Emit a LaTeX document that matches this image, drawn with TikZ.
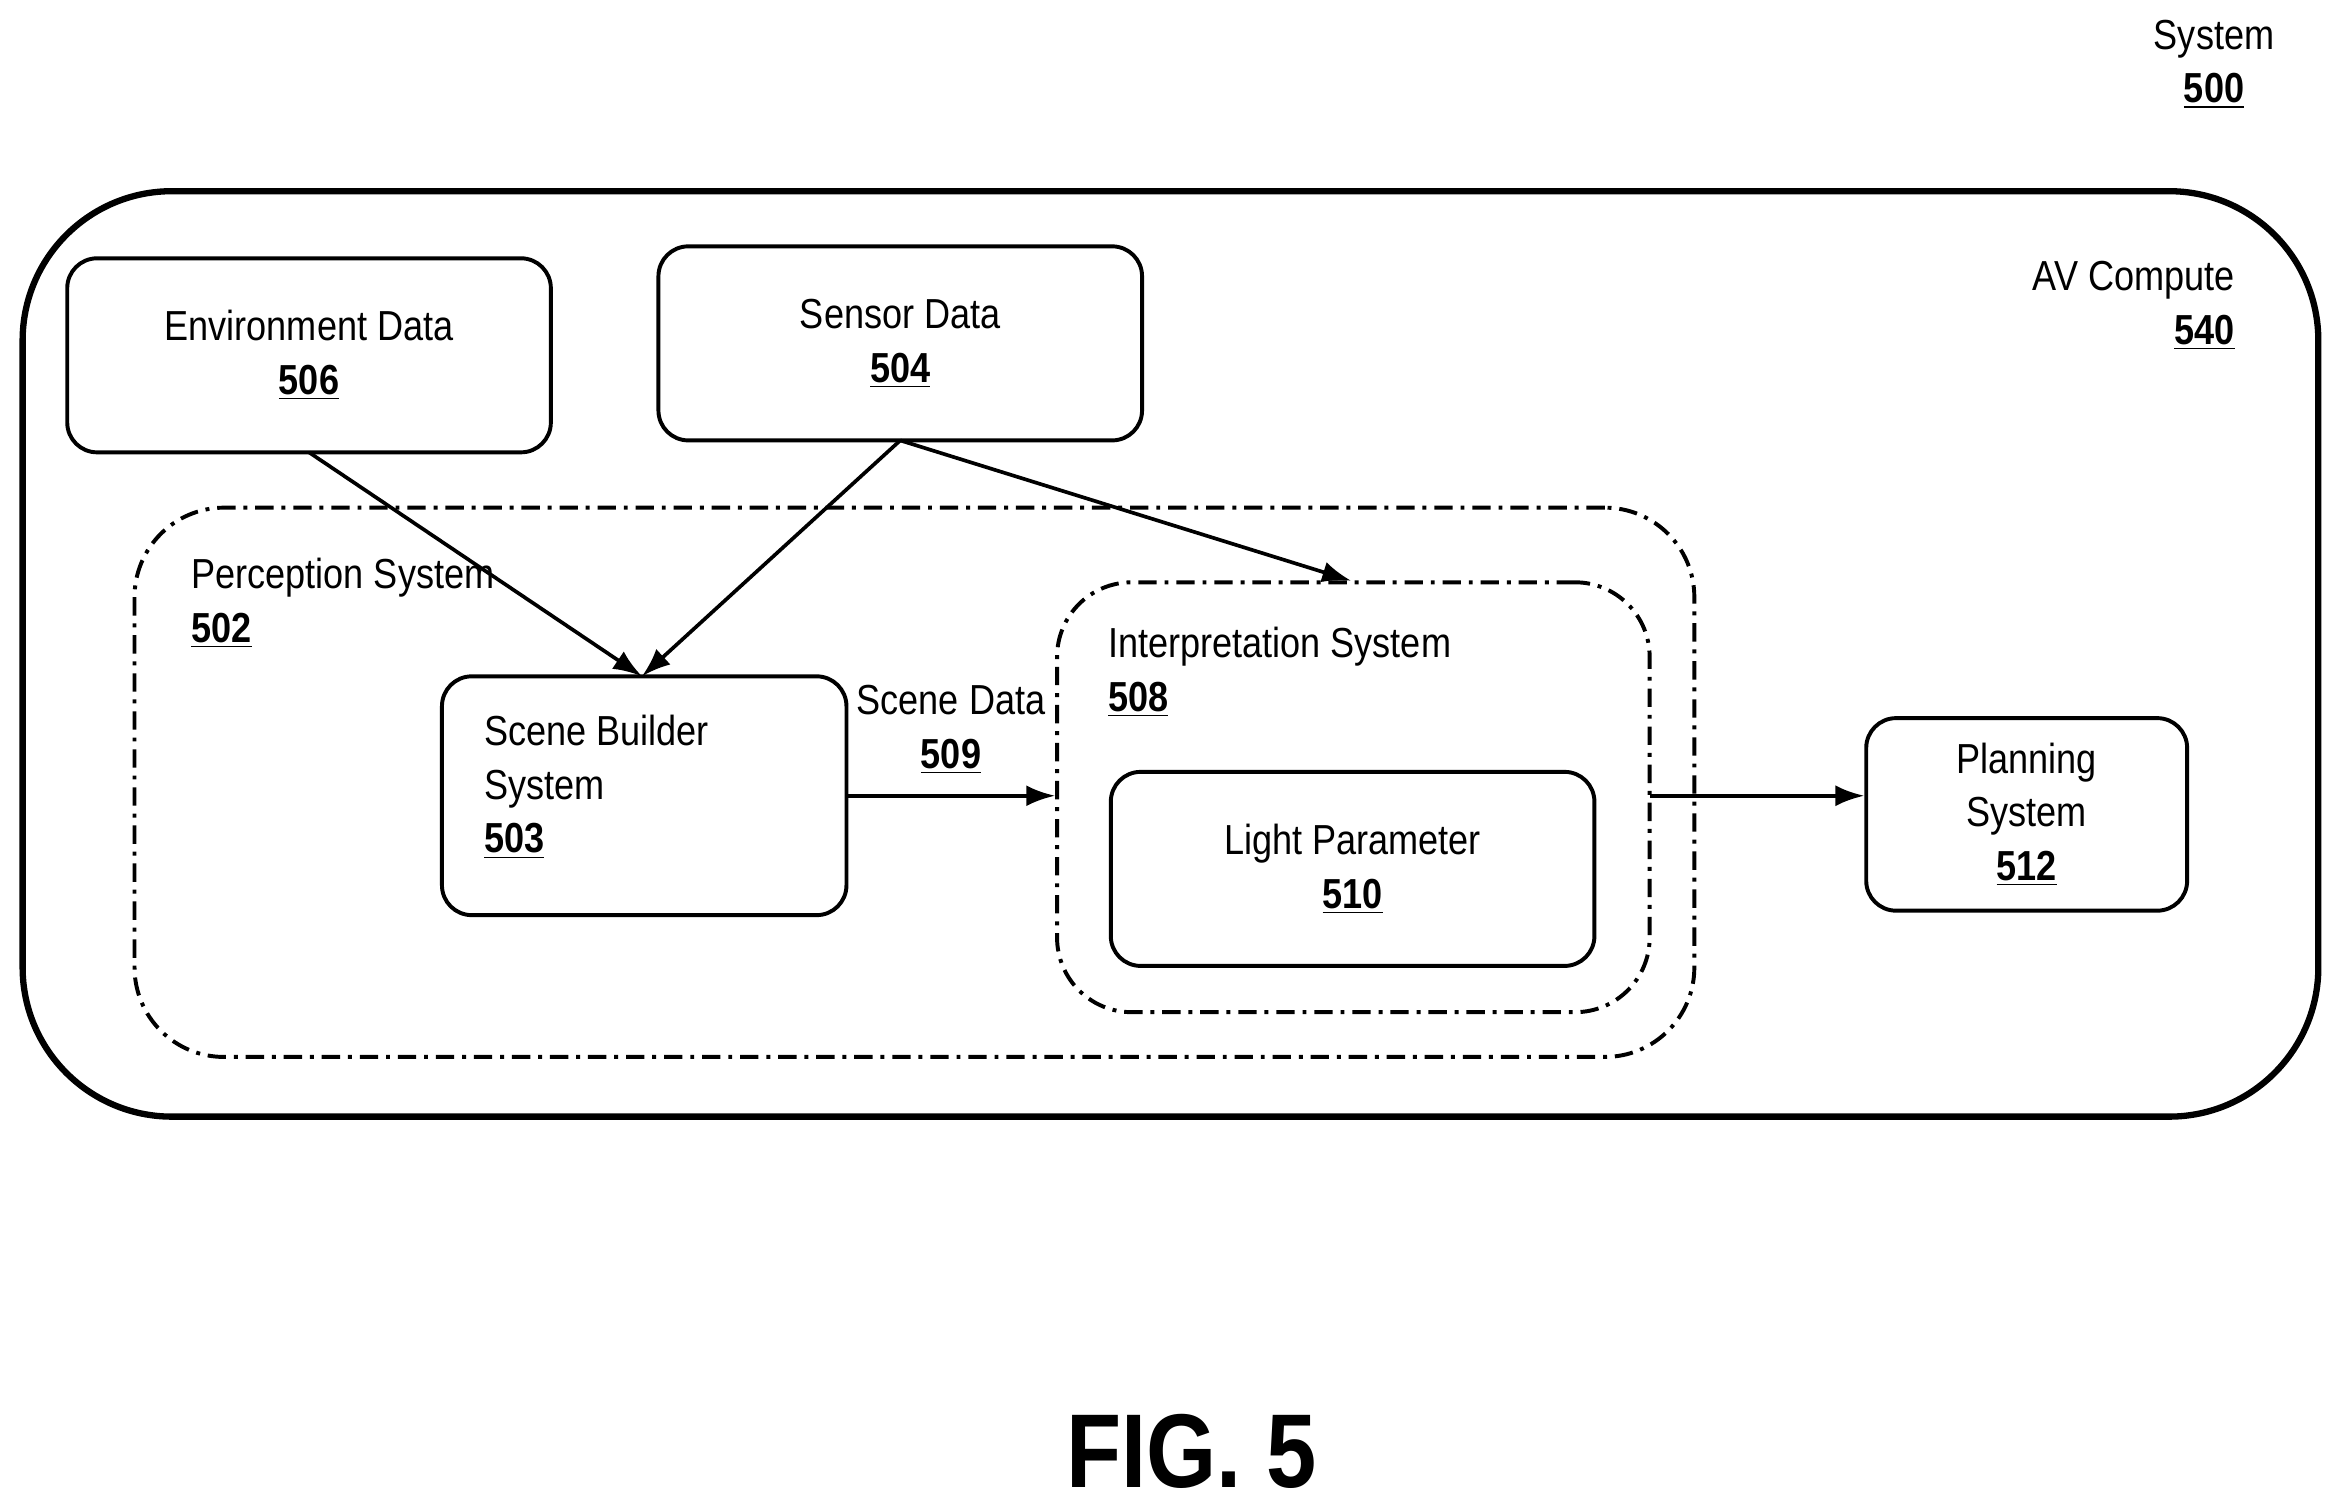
\documentclass[tikz,border=0pt]{standalone}
\usepackage{fontspec}
\setmainfont{Liberation Sans}[FakeStretch=0.86]
\usetikzlibrary{arrows.meta}
\tikzstyle{box}=[draw, rounded corners=0.4cm, line width=1.5pt,
                 align=center, inner sep=0pt]
\tikzstyle{group}=[draw, line width=1.5pt, dash pattern=on 7pt off 3pt on 1.5pt off 3pt]
\tikzstyle{edge}=[line width=1.4pt, -{Latex[length=11pt,width=8pt]}]
\newcommand{\num}[1]{\underline{\textbf{#1}}}

\begin{document}
\begin{tikzpicture}[x=0.02cm, y=-0.02cm, font=\fontsize{16}{20.5}\selectfont]
  \useasboundingbox (0,0) rectangle (1560,1010);
  % containers
  \node (av) at (784,438) [draw, rounded corners=2cm, line width=2.4pt,
        minimum width=30.76cm, minimum height=12.4cm]{};
  \node (perc) at (612.5,524) [group, rounded corners=1.2cm,
        minimum width=20.9cm, minimum height=7.36cm]{};
  \node (interp) at (906.5,534) [group, rounded corners=1cm,
        minimum width=7.94cm, minimum height=5.76cm]{};

  % boxes
  \node (env) at (207,238) [box, minimum width=6.48cm, minimum height=2.6cm]
        {Environment Data\\\num{506}};
  \node (sensor) at (603,230) [box, minimum width=6.48cm, minimum height=2.6cm]
        {Sensor Data\\\num{504}};
  \node (scene) at (431.5,533) [box, minimum width=5.42cm, minimum height=3.2cm]{};
  \node (light) at (906,582) [box, minimum width=6.48cm, minimum height=2.6cm]
        {Light Parameter\\\num{510}};
  \node (plan) at (1357.5,545.5) [box, minimum width=4.3cm, minimum height=2.58cm]
        {Planning\\System\\\num{512}};

  % labels
  \node (sys) at (1483,43) [align=center]{System\\\num{500}};
  \node (avl) at (1503,205) [anchor=east, align=right]{AV Compute\\\num{540}};
  \node (percl) at (122,404) [anchor=west, align=left]{Perception System\\\num{502}};
  \node (interpl) at (736,450) [anchor=west, align=left]{Interpretation System\\\num{508}};
  \node (scenel) at (318,527) [anchor=west, align=left]{Scene Builder\\System\\\num{503}};
  \node (data) at (637,489) [align=center]{Scene Data\\\num{509}};
  \node (fig) at (798,972) [font=\fontsize{40}{46}\selectfont\bfseries]{FIG. 5};

  % connectors
  \coordinate (s1) at (603,295);
  \coordinate (e1) at (207,303);
  \coordinate (top) at (430,453);
  \coordinate (itop) at (905,389);
  \coordinate (iout) at (1105,533);
  \draw [edge] (e1) -- (top);
  \draw [edge] (s1) -- (top);
  \draw [edge] (s1) -- (itop);
  \draw [edge] (scene.east) -- (scene.east -| interp.west);
  \draw [edge] (iout) -- (iout -| plan.west);
\end{tikzpicture}
\end{document}
